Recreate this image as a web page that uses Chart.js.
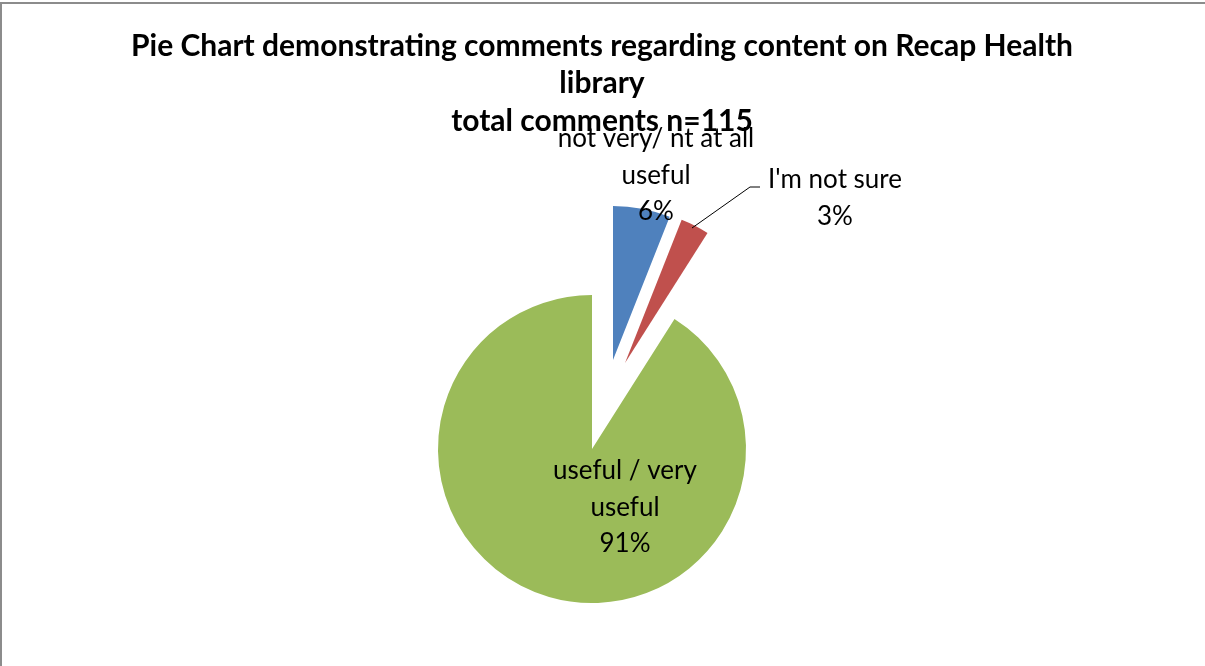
<!DOCTYPE html>
<html>
<head>
<meta charset="utf-8">
<script src="https://cdn.jsdelivr.net/npm/chart.js@4.4.1/dist/chart.umd.min.js"></script>
<style>
  html, body { margin: 0; padding: 0; background: #fff; }
  #wrap { position: absolute; left: 0; top: 0; width: 1205px; height: 666px; }
  #frame { position: absolute; left: 0; top: 2px; right: 0; bottom: 0; border-top: 2px solid #8c8c8c; border-left: 2px solid #8c8c8c; pointer-events: none; }
</style>
</head>
<body>
<div id="wrap">
  <canvas id="pie" width="1205" height="666"></canvas>
  <div id="frame"></div>
</div>
<script>
const titleLines = ['Pie Chart demonstrating comments regarding content on Recap Health', 'library', 'total comments n=115'];
const categories = ['not very/ nt at all useful', "I'm not sure", 'useful / very useful'];
const labelLines = [['not very/ nt at all', 'useful'], ["I'm not sure"], ['useful / very', 'useful']];
const shares = [6, 3, 91];
const sliceColors = ['#4F81BD', '#C0504D', '#9BBB59'];

// how far each slice is pulled out of the pie (px)
const explodeShift = [[21, -89], [33, -86], [0, 0]];

// label anchor (first line centre) relative to the pie centre
const labelOffsets = [[64, -310], [243, -269], [33, 22]];
const leaderLine = [[100, -221], [158, -262], [168, -262]];

const FONT = 'Lato, "Open Sans", sans-serif';

const explodePlugin = {
    id: 'explodePlugin',
    afterDatasetUpdate(chart, args) {
        const meta = chart.getDatasetMeta(args.index);
        meta.data.forEach((arc, i) => {
            const [dx, dy] = explodeShift[i] || [0, 0];
            arc.x += dx;
            arc.y += dy;
        });
    }
};

const textPlugin = {
    id: 'textPlugin',
    afterDatasetsDraw(chart) {
        const { ctx, chartArea } = chart;
        const cx = (chartArea.left + chartArea.right) / 2;
        const cy = (chartArea.top + chartArea.bottom) / 2;
        ctx.save();
        ctx.fillStyle = '#000';
        ctx.textAlign = 'center';
        ctx.textBaseline = 'middle';

        // leader line for the small slice
        ctx.strokeStyle = '#000';
        ctx.lineWidth = 1;
        ctx.beginPath();
        leaderLine.forEach(([dx, dy], i) => {
            if (i === 0) ctx.moveTo(cx + dx, cy + dy);
            else ctx.lineTo(cx + dx, cy + dy);
        });
        ctx.stroke();

        ctx.font = '26px ' + FONT;
        const total = shares.reduce((a, b) => a + b, 0);
        labelLines.forEach((lines, i) => {
            const [dx, dy] = labelOffsets[i];
            const rows = lines.concat(Math.round(shares[i] / total * 100) + '%');
            rows.forEach((t, j) => ctx.fillText(t, cx + dx, cy + dy + j * 36.5));
        });

        ctx.font = 'bold 30px ' + FONT;
        titleLines.forEach((t, j) => ctx.fillText(t, 602, 46 + j * 37.5));
        ctx.restore();
    }
};

new Chart(document.getElementById('pie'), {
    type: 'pie',
    data: {
        labels: categories,
        datasets: [{
            data: shares,
            backgroundColor: sliceColors,
            borderWidth: 0,
            radius: 154
        }]
    },
    options: {
        responsive: false,
        animation: false,
        events: [],
        layout: { padding: { top: 232, right: 21, bottom: 0, left: 0 } },
        plugins: {
            legend: { display: false },
            tooltip: { enabled: false },
            title: { display: false }
        }
    },
    plugins: [explodePlugin, textPlugin]
});
</script>
</body>
</html>
